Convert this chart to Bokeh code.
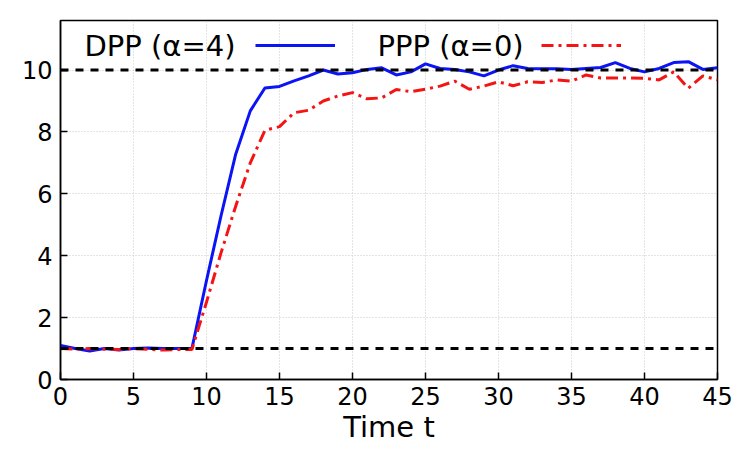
from bokeh.plotting import figure
from bokeh.models import Span, Legend, LegendItem, Label, FixedTicker
from bokeh.embed import file_html
from bokeh.resources import INLINE

# time steps and the two series
t = list(range(46))
dpp = [1.10, 1.00, 0.92, 1.00, 0.95, 1.00, 1.02, 1.00, 1.00, 1.00,
       3.20, 5.30, 7.28, 8.68, 9.42, 9.47, 9.65, 9.81, 10.00, 9.87,
       9.91, 10.02, 10.07, 9.84, 9.94, 10.20, 10.05, 10.02, 9.94, 9.81,
       10.00, 10.14, 10.05, 10.04, 10.04, 10.02, 10.05, 10.08, 10.24, 10.05,
       9.94, 10.05, 10.24, 10.27, 10.02, 10.07]
ppp = [1.00, 0.98, 1.00, 0.98, 0.97, 1.00, 0.98, 0.95, 0.97, 0.97,
       2.50, 4.10, 5.60, 7.00, 8.05, 8.17, 8.62, 8.70, 9.00, 9.16,
       9.27, 9.07, 9.10, 9.37, 9.30, 9.38, 9.48, 9.64, 9.38, 9.48,
       9.62, 9.49, 9.62, 9.60, 9.68, 9.64, 9.84, 9.74, 9.74, 9.74,
       9.73, 9.68, 9.94, 9.41, 9.81, 9.68]
levels = [10, 1]
x_ticks = [0, 5, 10, 15, 20, 25, 30, 35, 40, 45]
y_ticks = [0, 2, 4, 6, 8, 10]
labels = ["DPP (\u03b1=4)", "PPP (\u03b1=0)"]

FONT = "DejaVu Sans"

p = figure(width=750, height=450, output_backend="svg", toolbar_location=None,
           x_range=(0, 45), y_range=(0, 11.6),
           min_border_left=60, min_border_right=33, min_border_top=20, min_border_bottom=71)

p.outline_line_color = "black"
p.outline_line_width = 1.5
p.background_fill_color = "white"
p.border_fill_color = "white"

for ax in (p.xaxis[0], p.yaxis[0]):
    ax.axis_line_color = "black"
    ax.axis_line_width = 1.5
    ax.major_tick_in = 7
    ax.major_tick_out = 0
    ax.minor_tick_line_color = None
    ax.major_tick_line_width = 1.5
    ax.major_label_text_font = FONT
    ax.major_label_text_font_size = "24px"
    ax.major_label_text_color = "black"

p.xaxis.ticker = FixedTicker(ticks=x_ticks)
p.yaxis.ticker = FixedTicker(ticks=y_ticks)
p.xaxis.major_label_standoff = 7
p.yaxis.major_label_standoff = 8
p.xaxis.axis_label = "Time t"
p.xaxis.axis_label_text_font = FONT
p.xaxis.axis_label_text_font_size = "29px"
p.xaxis.axis_label_text_font_style = "normal"
p.xaxis.axis_label_text_color = "black"
p.xaxis.axis_label_standoff = 2

for g in (p.xgrid[0], p.ygrid[0]):
    g.grid_line_color = "#c8c8c8"
    g.grid_line_dash = "1 2"
    g.grid_line_width = 1

for lv in levels:
    p.add_layout(Span(location=lv, dimension="width", line_color="black",
                      line_width=3, line_dash="8 7"))

r_dpp = p.line(t, dpp, line_color="#0a14f5", line_width=3)
r_ppp = p.line(t, ppp, line_color="#f51414", line_width=3, line_dash="12 5 3 5")

# legend samples (text drawn separately to the left of each sample)
for rend, loc in ((r_dpp, (195, 324)), (r_ppp, (481, 324))):
    lg = Legend(items=[LegendItem(label=" ", renderers=[rend])], location=loc,
                orientation="horizontal", glyph_width=80, glyph_height=20,
                label_width=1, label_standoff=0, padding=0, margin=0,
                border_line_color=None, background_fill_alpha=0,
                label_text_font_size="1px")
    p.add_layout(lg)

for txt, lx in zip(labels, (24, 317)):
    p.add_layout(Label(x=lx, y=334, x_units="screen", y_units="screen", text=txt,
                       text_font=FONT, text_font_size="29px", text_baseline="middle",
                       text_color="black"))

open("out.html", "w").write(file_html(p, INLINE))
